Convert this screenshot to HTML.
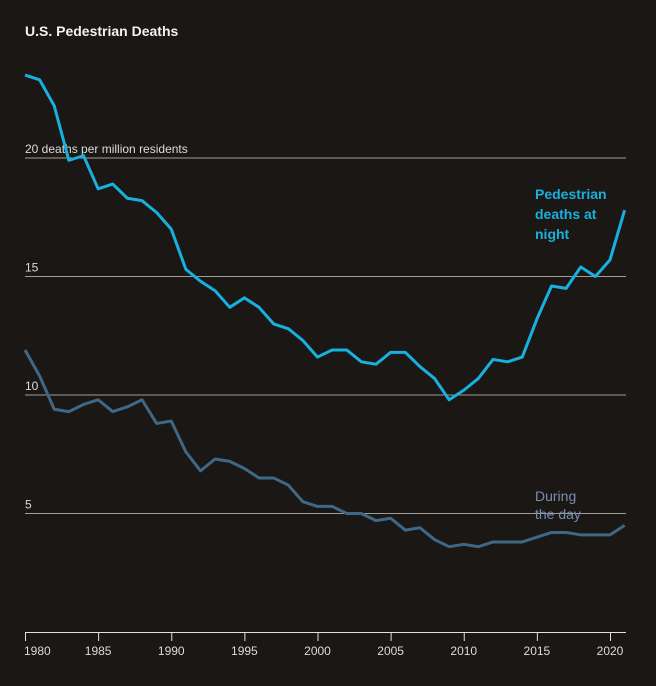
<!DOCTYPE html>
<html><head><meta charset="utf-8"><style>
body{margin:0;background:#1b1714;}
svg{display:block;font-family:"Liberation Sans",sans-serif;}
</style></head><body>
<svg id="c" width="656" height="686">
<rect width="656" height="686" fill="#1b1714"/>
<text x="25" y="36" fill="#f2f2f2" font-size="14" font-weight="bold">U.S. Pedestrian Deaths</text>
<g id="grid"></g><g id="xax"></g><g id="lines"></g>
<text x="535" y="199" fill="#18b0de" font-size="14" font-weight="bold"><tspan x="535">Pedestrian</tspan><tspan x="535" dy="20">deaths at</tspan><tspan x="535" dy="20">night</tspan></text>
<text x="535" y="501" fill="#7790b0" font-size="14"><tspan x="535">During</tspan><tspan x="535" dy="18">the day</tspan></text>
</svg>
<script>
const years=[];for(let y=1980;y<=2021;y++)years.push(y);
const night=[23.5,23.3,22.2,19.9,20.1,18.7,18.9,18.3,18.2,17.7,17.0,15.3,14.8,14.4,13.7,14.1,13.7,13.0,12.8,12.3,11.6,11.9,11.9,11.4,11.3,11.8,11.8,11.2,10.7,9.8,10.2,10.7,11.5,11.4,11.6,13.2,14.6,14.5,15.4,15.0,15.7,17.8];
const day=[11.9,10.8,9.4,9.3,9.6,9.8,9.3,9.5,9.8,8.8,8.9,7.6,6.8,7.3,7.2,6.9,6.5,6.5,6.2,5.5,5.3,5.3,5.0,5.0,4.7,4.8,4.3,4.4,3.9,3.6,3.7,3.6,3.8,3.8,3.8,4.0,4.2,4.2,4.1,4.1,4.1,4.5];
const yTicks=[5,10,15,20];
const xTicks=[1980,1985,1990,1995,2000,2005,2010,2015,2020];
const X=y=>25+(y-1980)*14.625, Y=v=>632-v*23.7;
const NS="http://www.w3.org/2000/svg";
function mk(t,a,p){const e=document.createElementNS(NS,t);for(const k in a)e.setAttribute(k,a[k]);p.appendChild(e);return e;}
const g=document.getElementById('grid');
yTicks.forEach(v=>{
 const l=mk('line',{x1:25,x2:626,y1:Y(v),y2:Y(v),stroke:'#a09c98','stroke-width':1},g);
 
 
 const t=mk('text',{x:25,y:Y(v)-5,fill:'#dcdcdc','font-size':12},g);
 t.textContent=v===20?'20 deaths per million residents':v;
 
 
});
const xa=document.getElementById('xax');
const base=mk('line',{x1:25,x2:626,y1:632.5,y2:632.5,stroke:'#e0e0e0','stroke-width':1},xa);


xTicks.forEach((y,i)=>{
 const tk=mk('line',{x1:X(y)+0.5,x2:X(y)+0.5,y1:632,y2:641,stroke:'#e0e0e0'},xa);
 
 
 const t=mk('text',{x:i===0?X(y)-1:X(y),y:655,fill:'#dcdcdc','font-size':12,'text-anchor':i===0?'start':'middle'},xa);
 t.textContent=y;
 
 
});
const L=document.getElementById('lines');
function line(d,c,n){
 const p=mk('polyline',{points:d.map((v,i)=>X(years[i])+','+Y(v)).join(' '),fill:'none',stroke:c,'stroke-width':3,'stroke-linejoin':'round'},L);
 
 
}
line(day,'#3e6886','day-line');
line(night,'#18b0de','night-line');
</script>
</body></html>
